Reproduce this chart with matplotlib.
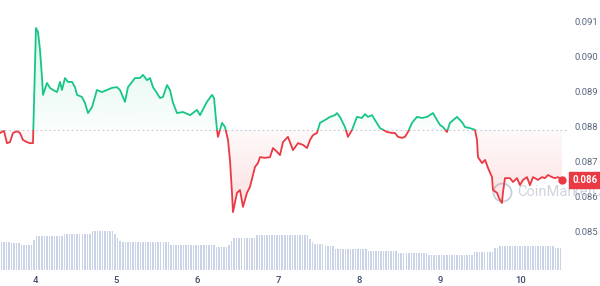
import numpy as np
import matplotlib
matplotlib.use("Agg")
import matplotlib.pyplot as plt
from matplotlib.patches import Rectangle
from matplotlib.path import Path

plt.rcParams["font.family"] = ["Roboto", "DejaVu Sans"]

# ---- data ----
days = [3.568, 3.617, 3.654, 3.691, 3.728, 3.778, 3.815, 3.852, 3.901, 3.938, 3.975,
        4.012, 4.037, 4.062, 4.086, 4.099, 4.148, 4.185, 4.222, 4.272, 4.309, 4.333,
        4.370, 4.407, 4.457, 4.494, 4.519, 4.580, 4.617, 4.654, 4.704, 4.765, 4.827,
        4.889, 4.951, 5.012, 5.049, 5.111, 5.148, 5.235, 5.296, 5.333, 5.383, 5.420,
        5.457, 5.506, 5.543, 5.580, 5.630, 5.667, 5.704, 5.753, 5.827, 5.914, 6.000,
        6.037, 6.123, 6.185, 6.210, 6.247, 6.259, 6.309, 6.346, 6.383, 6.407, 6.432,
        6.444, 6.494, 6.531, 6.568, 6.617, 6.654, 6.716, 6.753, 6.778, 6.840, 6.901,
        6.938, 6.988, 7.025, 7.062, 7.123, 7.185, 7.247, 7.309, 7.358, 7.395, 7.432,
        7.481, 7.519, 7.580, 7.642, 7.704, 7.728, 7.765, 7.827, 7.864, 7.914, 7.975,
        8.037, 8.074, 8.111, 8.160, 8.198, 8.259, 8.346, 8.407, 8.444, 8.481, 8.531,
        8.568, 8.605, 8.654, 8.716, 8.778, 8.840, 8.914, 8.963, 9.000, 9.037, 9.086,
        9.123, 9.210, 9.272, 9.309, 9.370, 9.432, 9.457, 9.469, 9.519, 9.556, 9.593,
        9.642, 9.654, 9.704, 9.728, 9.765, 9.778, 9.802, 9.864, 9.901, 9.951, 9.988,
        10.025, 10.074, 10.111, 10.148, 10.210, 10.259, 10.296, 10.333, 10.383, 10.420,
        10.457, 10.506]
prices = [0.08780, 0.08786, 0.08751, 0.08754, 0.08780, 0.08785, 0.08780, 0.08760, 0.08754,
          0.08751, 0.08751, 0.09080, 0.09069, 0.09017, 0.08940, 0.08889, 0.08923, 0.08909,
          0.08903, 0.08897, 0.08926, 0.08903, 0.08937, 0.08926, 0.08926, 0.08911, 0.08889,
          0.08883, 0.08866, 0.08837, 0.08854, 0.08903, 0.08897, 0.08903, 0.08909, 0.08911,
          0.08903, 0.08869, 0.08911, 0.08937, 0.08937, 0.08946, 0.08931, 0.08937, 0.08911,
          0.08894, 0.08880, 0.08883, 0.08917, 0.08903, 0.08866, 0.08837, 0.08840, 0.08831,
          0.08846, 0.08831, 0.08869, 0.08889, 0.08880, 0.08789, 0.08769, 0.08809, 0.08797,
          0.08760, 0.08703, 0.08609, 0.08554, 0.08609, 0.08617, 0.08569, 0.08609, 0.08626,
          0.08683, 0.08694, 0.08711, 0.08709, 0.08711, 0.08737, 0.08726, 0.08717, 0.08754,
          0.08769, 0.08731, 0.08751, 0.08746, 0.08737, 0.08760, 0.08774, 0.08780, 0.08809,
          0.08817, 0.08826, 0.08831, 0.08837, 0.08826, 0.08797, 0.08769, 0.08789, 0.08826,
          0.08823, 0.08834, 0.08826, 0.08831, 0.08817, 0.08794, 0.08783, 0.08780, 0.08780,
          0.08769, 0.08766, 0.08769, 0.08783, 0.08809, 0.08826, 0.08823, 0.08826, 0.08837,
          0.08817, 0.08803, 0.08797, 0.08783, 0.08809, 0.08826, 0.08811, 0.08797, 0.08794,
          0.08789, 0.08760, 0.08711, 0.08694, 0.08703, 0.08680, 0.08654, 0.08617, 0.08609,
          0.08594, 0.08580, 0.08611, 0.08651, 0.08651, 0.08640, 0.08651, 0.08631, 0.08646,
          0.08654, 0.08631, 0.08654, 0.08646, 0.08654, 0.08651, 0.08660, 0.08654, 0.08651,
          0.08654, 0.08646]
open_price = 0.08788

# volume: piecewise levels (arbitrary units) and number of consecutive bars at each level
vol_levels = [28, 27, 25, 30, 34, 36, 39, 36, 32, 29, 28, 25, 23, 25, 29, 32, 35,
              31, 28, 26, 24, 21, 19, 17, 15, 18, 22, 24, 22]
vol_counts = [4, 4, 5, 1, 11, 11, 9, 1, 1, 1, 19, 18, 5, 1, 1, 9, 21,
              1, 1, 4, 4, 13, 12, 12, 18, 8, 2, 22, 3]
vol_start = 3.568
vol_step = 0.03125  # days per bar

x_ticks = [4, 5, 6, 7, 8, 9, 10]
x_tick_labels = ["4", "5", "6", "7", "8", "9", "10"]
y_ticks = [0.085, 0.086, 0.087, 0.088, 0.089, 0.090, 0.091]
y_tick_labels = ["0.085", "0.086", "0.087", "0.088", "0.089", "0.090", "0.091"]
last_label = "0.086"
watermark = "CoinMarketCap"

GREEN = "#16c784"
RED = "#ea3943"
TXT = "#58667e"

d = np.array(days)
p = np.array(prices)

fig = plt.figure(figsize=(6.0, 2.86), dpi=100)
ax_rect = [0.0, 16 / 286, 567 / 600, 270 / 286]
axv = fig.add_axes(ax_rect)
ax = fig.add_axes(ax_rect, sharex=axv)
ax.patch.set_alpha(0)

xmin, xmax = 3.568, 10.568
ymin, ymax = 0.083886, 0.0916

# volume bars
vols = np.repeat(vol_levels, vol_counts)
vx = vol_start + vol_step * (np.arange(len(vols)) + 0.5)
axv.bar(vx, vols, width=vol_step * 0.6, color="#cad4e6", linewidth=0)
axv.set_ylim(0, 270)
axv.set_xlim(xmin, xmax)
axv.axis("off")

# gradient fills
def grad_fill(mask, color, y0, y1, a_top, a_bot):
    poly = ax.fill_between(d, p, open_price, where=mask, interpolate=True,
                           facecolor="none", edgecolor="none")
    paths = poly.get_paths()
    if not paths:
        return
    cp = Path.make_compound_path(*paths)
    rgb = matplotlib.colors.to_rgb(color)
    n = 256
    grad = np.zeros((n, 1, 4))
    grad[:, 0, 0:3] = rgb
    grad[:, 0, 3] = np.linspace(a_top, a_bot, n)
    im = ax.imshow(grad, extent=[xmin, xmax, y0, y1], origin="upper",
                   aspect="auto", zorder=1)
    im.set_clip_path(cp, transform=ax.transData)

grad_fill(p >= open_price, GREEN, open_price, 0.0910, 0.16, 0.02)
grad_fill(p < open_price, RED, 0.0855, open_price, 0.03, 0.17)

# baseline
ax.axhline(open_price, color="#c3cad6", lw=0.8, ls=(0, (1.5, 2.5)), zorder=2)

# price line split by colour
lg, = ax.plot(d, p, color=GREEN, lw=1.3, zorder=3, solid_joinstyle="round")
lr, = ax.plot(d, p, color=RED, lw=1.3, zorder=3, solid_joinstyle="round")
rect_up = Rectangle((xmin - 1, open_price), 20, 1, transform=ax.transData)
rect_dn = Rectangle((xmin - 1, open_price - 1), 20, 1, transform=ax.transData)
lg.set_clip_path(rect_up)
lr.set_clip_path(rect_dn)

ax.plot([d[-1]], [p[-1]], "o", color=RED, ms=5, zorder=4)

ax.set_xlim(xmin, xmax)
ax.set_ylim(ymin, ymax)
for s in ax.spines.values():
    s.set_visible(False)

ax.yaxis.tick_right()
ax.set_yticks(y_ticks)
ax.set_yticklabels(y_tick_labels)
ax.set_xticks(x_ticks)
ax.set_xticklabels(x_tick_labels)
ax.tick_params(axis="y", length=0, pad=5.5, labelsize=6.8, labelcolor=TXT)
ax.tick_params(axis="x", length=0, pad=4, labelsize=6.8, labelcolor="#3b4a66")
for t in ax.get_xticklabels():
    t.set_fontweight("medium")

# watermark (logo ring in data space, word mark in figure space so it is not clipped)
ax.plot([9.77], [0.08611], "o", ms=13, mfc="none", mec="#c8ced8", mew=1.3, zorder=0)
wm_y = ax.transData.transform((9.95, 0.08611))
wm_fig = fig.transFigure.inverted().transform(wm_y)
fig.text(wm_fig[0], wm_fig[1], watermark, fontsize=10.5, color="#c8ced8",
         ha="left", va="center", zorder=1, alpha=0.85)

# last price tag (drawn above the watermark)
tag_disp = ax.transAxes.transform((1.0095, (p[-1] - ymin) / (ymax - ymin)))
tag_fig = fig.transFigure.inverted().transform(tag_disp)
fig.text(tag_fig[0], tag_fig[1], last_label,
         fontsize=7, color="white", fontweight="bold", ha="left", va="center",
         bbox=dict(boxstyle="square,pad=0.3", fc=RED, ec=RED), zorder=2)

fig.savefig("out.png", dpi=100, facecolor="white")
